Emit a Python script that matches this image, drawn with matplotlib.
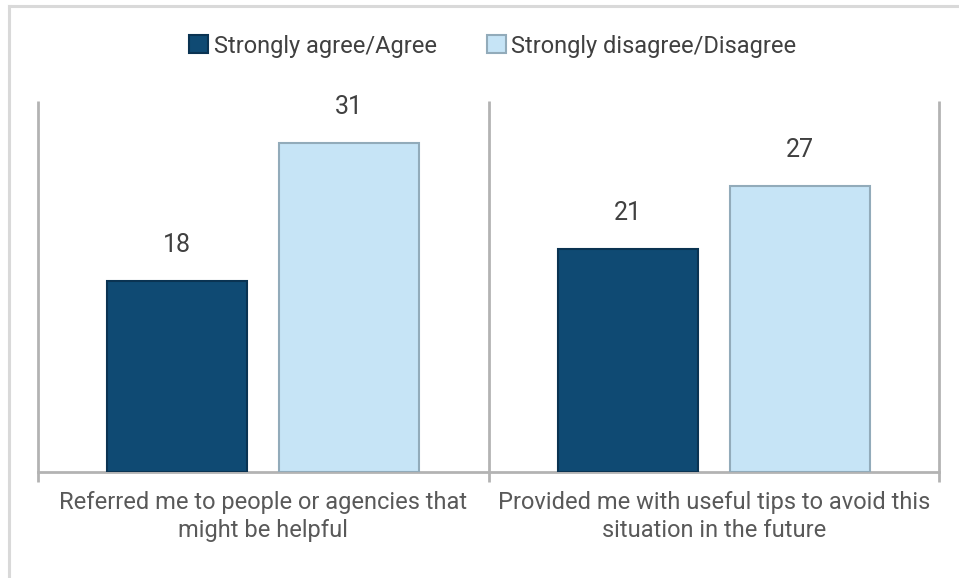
import matplotlib.pyplot as plt
from matplotlib.lines import Line2D
import numpy as np

# Data
categories = ['Referred me to people or agencies that\nmight be helpful',
              'Provided me with useful tips to avoid this\nsituation in the future']
agree = [18, 21]
disagree = [31, 27]
series_names = ['Strongly agree/Agree', 'Strongly disagree/Disagree']

plt.rcParams['font.family'] = ['Roboto', 'DejaVu Sans']

W, H = 959, 578
fig = plt.figure(figsize=(W / 100, H / 100), dpi=100)

# axes placed in pixel terms: left 38, right 939, top 101, bottom 472
ax = fig.add_axes([38 / W, 1 - 472 / H, (939 - 38) / W, (472 - 101) / H])

x = np.arange(len(categories))
width = 0.31
offset = 0.191
dark = '#0f4a73'
light = '#c6e4f6'

b1 = ax.bar(x - offset, agree, width, color=dark, edgecolor='#0a3352', linewidth=1.5,
            label=series_names[0], zorder=3)
b2 = ax.bar(x + offset, disagree, width, color=light, edgecolor='#92abba', linewidth=1.5,
            label=series_names[1], zorder=3)

for bars in (b1, b2):
    for b in bars:
        ax.annotate(f'{b.get_height():g}', (b.get_x() + b.get_width() / 2, b.get_height()),
                    xytext=(0, 26), textcoords='offset points', ha='center', va='center',
                    fontsize=18, color='#404040')

ax.set_xlim(-0.5, 1.5)
ax.set_ylim(0, 35)

grey = '#b3b3b3'
for s in ['top', 'right', 'left']:
    ax.spines[s].set_visible(False)
ax.spines['bottom'].set_color(grey)
ax.spines['bottom'].set_linewidth(2)

# vertical separators at category boundaries, extending below the baseline
for xv in [-0.5, 0.5, 1.5]:
    ax.plot([xv, xv], [-0.9, 35], color=grey, lw=2, clip_on=False, zorder=2,
            solid_capstyle='butt')

ax.set_yticks([])
ax.set_xticks(x)
ax.set_xticklabels(categories, fontsize=17, color='#595959', linespacing=1.25)
ax.tick_params(axis='x', length=0, pad=14)

ax.legend(loc='center', bbox_to_anchor=(0.514, 1 - 46 / H), bbox_transform=fig.transFigure,
          ncol=2, frameon=False, fontsize=17, labelcolor='#404040',
          handlelength=0.8, handleheight=0.8, handletextpad=0.25, columnspacing=2.1)

# light grey frame visible on top and left edges
bc = '#d9d9d9'
fig.add_artist(Line2D([8.5 / W, 1.0], [1 - 5.5 / H, 1 - 5.5 / H], color=bc, lw=2.2,
                      transform=fig.transFigure))
fig.add_artist(Line2D([8.5 / W, 8.5 / W], [0, 1 - 5.5 / H], color=bc, lw=2.2,
                      transform=fig.transFigure))

fig.savefig('out.png', dpi=100)
